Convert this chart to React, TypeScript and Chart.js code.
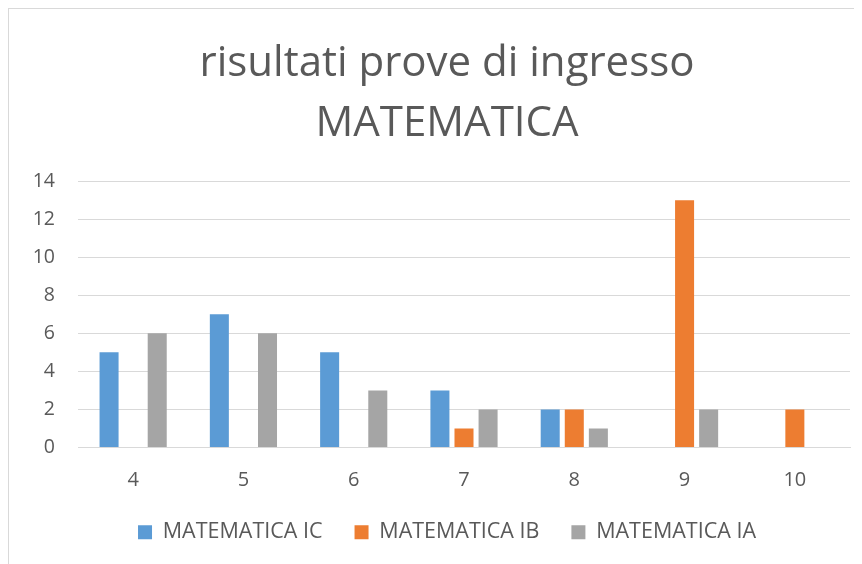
import { useEffect, useRef } from "react";
import { Chart, registerables } from "chart.js";

Chart.register(...registerables);

const categories = ["4", "5", "6", "7", "8", "9", "10"];
const seriesIC: (number | null)[] = [5, 7, 5, 3, 2, null, null];
const seriesIB: (number | null)[] = [null, null, null, 1, 2, 13, 2];
const seriesIA: (number | null)[] = [6, 6, 3, 2, 1, 2, null];
const seriesNames = ["MATEMATICA IC", "MATEMATICA IB", "MATEMATICA IA"];
const seriesColors = ["#5B9BD5", "#ED7D31", "#A5A5A5"];
const titleLines = ["risultati prove di ingresso", "MATEMATICA"];
const yMin = 0;
const yMax = 14;
const yStep = 2;

const FONT = "'Open Sans', sans-serif";
const TEXT = "#595959";
const GRID = "#D9D9D9";

export default function App() {
  const ref = useRef<HTMLCanvasElement | null>(null);

  useEffect(() => {
    if (!ref.current) return;
    const seriesData = [seriesIC, seriesIB, seriesIA];
    const chart = new Chart(ref.current, {
      type: "bar",
      data: {
        labels: categories,
        datasets: seriesNames.map((name, i) => ({
          label: name,
          data: seriesData[i],
          backgroundColor: seriesColors[i],
          borderWidth: 0,
          categoryPercentage: 0.655,
          barPercentage: 0.79,
          yAxisID: "y",
        })),
      },
      options: {
        animation: false,
        responsive: false,
        maintainAspectRatio: false,
        layout: { padding: 0 },
        plugins: {
          title: {
            display: true,
            text: titleLines,
            color: TEXT,
            font: { family: FONT, size: 42, weight: "normal", lineHeight: 1.43 },
            padding: { top: 25, bottom: 27 },
          },
          legend: {
            display: true,
            position: "bottom",
            labels: {
              color: TEXT,
              font: { family: FONT, size: 21.5 },
              boxWidth: 14,
              boxHeight: 14,
              padding: 32,
            },
          },
          tooltip: { enabled: false },
        },
        scales: {
          x: {
            grid: { display: false, drawTicks: false },
            border: { display: true, color: GRID, width: 1 },
            ticks: { color: TEXT, font: { family: FONT, size: 20 }, padding: 21 },
            afterFit: (s: any) => {
              s.height = 42;
            },
          },
          y: {
            position: "left",
            min: yMin,
            max: yMax,
            grid: { color: GRID, drawTicks: false, lineWidth: 1 },
            border: { display: false },
            ticks: {
              stepSize: yStep,
              color: TEXT,
              font: { family: FONT, size: 19.5 },
              padding: 23,
            },
            afterFit: (s: any) => {
              s.width = 69;
            },
          },
          yRight: {
            position: "right",
            display: true,
            min: yMin,
            max: yMax,
            grid: { display: false, drawTicks: false },
            border: { display: false },
            ticks: { display: false },
            afterFit: (s: any) => {
              s.width = 35;
            },
          },
        },
      },
    });
    return () => chart.destroy();
  }, []);

  return (
    <div
      style={{
        width: 854,
        height: 556,
        overflow: "hidden",
        borderTop: "1px solid #D9D9D9",
        borderLeft: "1px solid #D9D9D9",
        boxSizing: "border-box",
        background: "#fff",
      }}
    >
      <canvas ref={ref} width={876} height={544} style={{ display: "block" }} />
    </div>
  );
}
